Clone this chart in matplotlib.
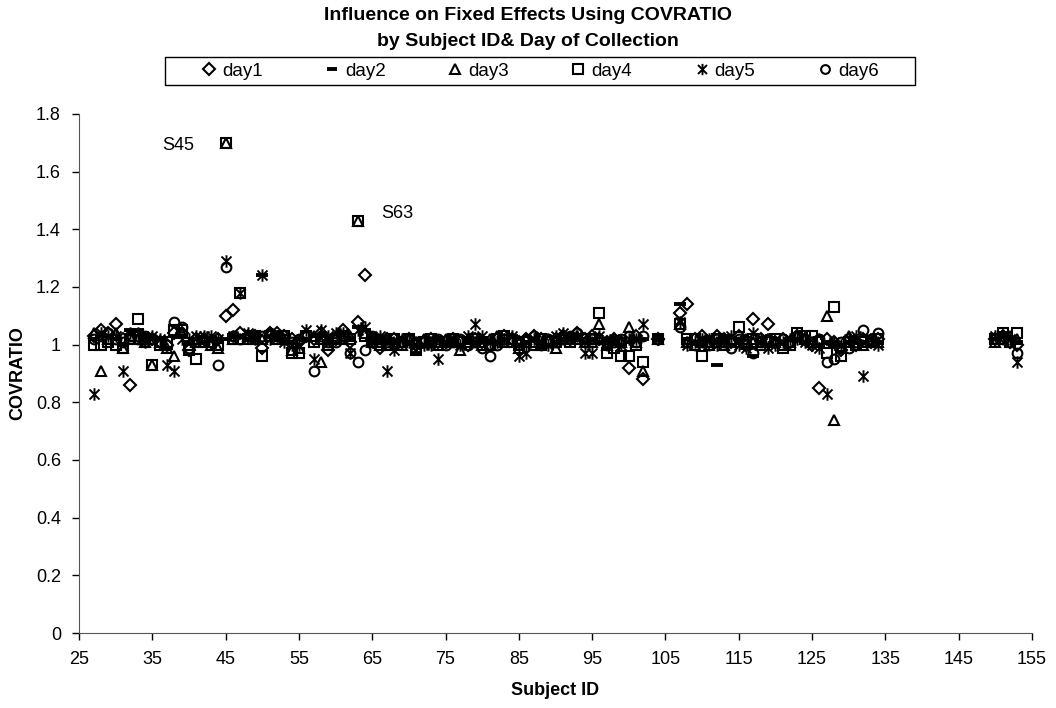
import numpy as np
import matplotlib
matplotlib.use("Agg")
import matplotlib.pyplot as plt
from matplotlib.patches import Rectangle
from matplotlib.path import Path

plt.rcParams["font.family"] = ["Liberation Sans", "DejaVu Sans"]

subjects = [27, 28, 29, 30, 31, 32, 33, 34, 35, 36, 37, 38, 39, 40, 41, 42, 43, 44,
            45, 46, 47, 48, 49, 50, 51, 52, 53, 54, 55, 56, 57, 58, 59, 60, 61, 62,
            63, 64, 65, 66, 67, 68, 69, 70, 71, 72, 73, 74, 75, 76, 77, 78, 79, 80,
            81, 82, 83, 84, 85, 86, 87, 88, 89, 90, 91, 92, 93, 94, 95, 96, 97, 98,
            99, 100, 101, 102, 104, 107, 108, 109, 110, 111, 112, 113, 114, 115, 116,
            117, 118, 119, 120, 121, 122, 123, 124, 125, 126, 127, 128, 129, 130, 131,
            132, 133, 134, 150, 151, 152, 153]

day1 = [1.03, 1.05, 1.04, 1.07, 1.02, 0.86, 1.03, 1.02, 1.02, 1.01, 1.00, 1.04, 1.04, 0.98, 1.02, 1.02, 1.01, 1.02,
        1.10, 1.12, 1.04, 1.03, 1.03, 0.99, 1.04, 1.04, 1.03, 1.02, 1.01, 1.03, 1.02, 1.04, 0.98, 1.02, 1.05, 1.01,
        1.08, 1.24, 1.02, 0.99, 1.02, 1.02, 1.01, 1.02, 1.00, 1.01, 1.02, 1.01, 1.01, 1.02, 1.01, 1.00, 1.02, 1.01,
        1.00, 1.02, 1.03, 1.02, 1.01, 1.02, 1.03, 1.02, 1.01, 1.02, 1.03, 1.02, 1.04, 1.02, 1.03, 1.02, 1.01, 1.02,
        1.01, 0.92, 1.03, 0.88, 1.02, 1.11, 1.14, 1.02, 1.03, 1.01, 1.03, 1.02, 1.01, 1.03, 1.00,
        1.09, 1.02, 1.07, 1.01, 1.02, 1.01, 1.03, 1.02, 1.00, 0.85, 1.02, 1.01, 0.98, 1.02, 1.00,
        1.02, 1.01, 1.02, 1.02, 1.03, 1.01, 1.00]

day2 = [1.02, 1.03, 1.03, 1.02, 1.00, 1.05, 1.05, 1.03, 1.02, 1.02, 0.99, 1.03, 1.03, 1.01, 1.02, 1.01, 1.02, 1.01,
        1.02, 1.03, 1.03, 1.02, 1.04, 1.24, 1.03, 1.02, 1.02, 1.01, 1.02, 1.02, 1.03, 1.03, 1.01, 1.01, 1.04, 1.02,
        1.06, 1.05, 1.03, 1.02, 1.01, 1.01, 1.02, 1.01, 0.97, 1.00, 1.01, 1.02, 1.00, 1.01, 1.00, 1.01, 1.01, 1.02,
        1.01, 1.01, 1.02, 1.03, 1.00, 1.01, 1.02, 0.99, 1.00, 1.01, 1.02, 1.03, 1.02, 1.01, 1.02, 1.01, 1.02, 1.01,
        1.00, 1.01, 1.02, 1.02, 1.02, 1.14, 1.02, 1.01, 1.00, 1.02, 0.93, 1.03, 1.00, 1.02, 0.99,
        0.96, 1.01, 1.00, 1.02, 1.01, 1.02, 1.02, 1.01, 1.02, 1.00, 1.01, 1.00, 1.00, 1.01, 1.01,
        1.01, 1.00, 1.01, 1.02, 1.04, 1.02, 1.01]

day3 = [1.04, 0.91, 1.02, 1.04, 0.99, 1.03, 1.02, 1.01, 0.93, 1.01, 0.99, 0.96, 1.04, 1.00, 1.01, 1.02, 1.00, 0.99,
        1.70, 1.02, 1.02, 1.03, 1.02, 1.02, 1.04, 1.03, 1.02, 0.98, 0.99, 1.04, 1.03, 0.94, 1.02, 1.03, 1.02, 1.03,
        1.43, 1.04, 1.01, 1.00, 1.02, 1.01, 1.00, 1.02, 1.01, 1.02, 1.01, 1.00, 1.02, 1.01, 0.98, 1.02, 1.01, 1.00,
        1.02, 1.03, 1.01, 1.02, 0.99, 1.02, 1.01, 1.00, 1.02, 0.99, 1.03, 1.02, 1.03, 1.01, 1.01, 1.07, 1.00, 1.02,
        1.01, 1.06, 1.01, 0.91, 1.02, 1.07, 1.01, 1.00, 1.01, 1.00, 1.01, 1.00, 1.02, 1.01, 1.02,
        1.01, 1.00, 1.02, 1.01, 1.00, 1.01, 1.03, 1.02, 1.01, 1.02, 1.10, 0.74, 0.99, 1.03, 1.02,
        1.00, 1.02, 1.01, 1.01, 1.02, 1.03, 1.02]

day4 = [1.00, 1.00, 1.01, 1.00, 0.99, 1.02, 1.09, 1.02, 0.93, 1.00, 1.01, 1.05, 1.05, 0.98, 0.95, 1.01, 1.01, 1.00,
        1.70, 1.02, 1.18, 1.02, 1.03, 0.96, 1.03, 1.02, 1.03, 0.97, 0.97, 1.03, 1.01, 1.02, 1.00, 1.02, 1.03, 1.02,
        1.43, 1.03, 1.02, 1.01, 1.00, 1.02, 1.01, 1.02, 0.98, 1.01, 1.02, 1.01, 1.01, 1.02, 1.01, 1.01, 1.02, 1.01,
        1.00, 1.02, 1.03, 1.01, 1.00, 1.01, 1.00, 1.02, 1.01, 1.01, 1.02, 1.01, 1.02, 1.02, 1.02, 1.11, 0.97, 0.99,
        0.96, 0.96, 1.00, 0.94, 1.02, 1.07, 1.02, 1.02, 0.96, 1.01, 1.02, 1.01, 1.01, 1.06, 1.01,
        1.02, 1.01, 1.01, 1.02, 0.99, 1.00, 1.04, 1.03, 1.03, 1.01, 0.97, 1.13, 0.96, 1.01, 1.00,
        1.01, 1.01, 1.02, 1.02, 1.04, 1.01, 1.04]

day5 = [0.83, 1.04, 1.03, 1.03, 0.91, 1.04, 1.04, 1.01, 1.03, 1.02, 0.93, 0.91, 1.02, 1.02, 1.03, 1.03, 1.03, 1.02,
        1.29, 1.03, 1.18, 1.04, 1.02, 1.24, 1.02, 1.03, 1.01, 1.00, 1.00, 1.05, 0.95, 1.05, 1.03, 1.04, 1.04, 0.97,
        1.05, 1.06, 1.01, 1.03, 0.91, 0.98, 1.02, 1.01, 1.00, 1.00, 1.00, 0.95, 1.01, 1.02, 1.00, 1.03, 1.07, 1.03,
        1.01, 1.01, 1.02, 1.03, 0.96, 0.97, 1.02, 1.01, 1.00, 1.03, 1.04, 1.02, 1.03, 0.97, 0.97, 1.03, 1.01, 1.02,
        1.00, 1.02, 1.02, 1.07, 1.02, 1.08, 1.00, 1.01, 1.02, 1.02, 1.00, 1.02, 1.03, 1.00, 0.99,
        1.04, 1.02, 0.99, 1.00, 1.01, 1.02, 1.02, 1.01, 1.00, 0.99, 0.83, 1.01, 1.00, 1.02, 1.03,
        0.89, 1.02, 1.00, 1.03, 1.03, 1.02, 0.94]

day6 = [1.02, 1.03, 1.04, 1.02, 1.01, 1.03, 1.02, 1.03, 1.02, 1.01, 1.00, 1.08, 1.06, 0.99, 1.02, 1.02, 1.01, 0.93,
        1.27, 1.03, 1.02, 1.03, 1.03, 1.03, 1.04, 1.03, 1.02, 1.01, 1.02, 1.03, 0.91, 1.03, 1.01, 1.01, 1.03, 0.97,
        0.94, 0.98, 1.03, 1.02, 1.01, 1.00, 1.01, 1.02, 1.01, 1.01, 1.01, 1.02, 1.00, 1.01, 1.02, 1.00, 1.01, 0.99,
        0.96, 1.00, 1.02, 1.02, 1.01, 1.02, 1.03, 1.00, 1.02, 1.01, 1.02, 1.03, 1.04, 1.01, 1.02, 1.02, 1.00, 1.01,
        1.02, 1.03, 1.01, 1.03, 1.02, 1.06, 1.01, 1.00, 1.01, 1.00, 1.02, 1.01, 0.99, 1.02, 1.00,
        0.97, 1.01, 1.02, 1.01, 1.02, 1.01, 1.03, 1.02, 1.01, 1.02, 0.94, 0.95, 1.01, 0.99, 1.01,
        1.05, 1.02, 1.04, 1.02, 1.02, 1.01, 0.97]

# Excel-style asterisk: vertical stroke plus an X
star = Path([(0, -1), (0, 1), (-0.8, -0.8), (0.8, 0.8), (-0.8, 0.8), (0.8, -0.8)],
            [Path.MOVETO, Path.LINETO, Path.MOVETO, Path.LINETO, Path.MOVETO, Path.LINETO])

days = ["day1", "day2", "day3", "day4", "day5", "day6"]
values = [day1, day2, day3, day4, day5, day6]
markers = ["D", "_", "^", "s", star, "o"]
sizes = [6.5, 8, 7.5, 7.5, 9, 7]
widths = [1.5, 2.8, 1.5, 1.5, 1.4, 1.5]

fig = plt.figure(figsize=(10.56, 7.08), dpi=100)
ax = fig.add_axes([79 / 1056, 75 / 708, 953 / 1056, 519 / 708])

for name, vals, m, s, w in zip(days, values, markers, sizes, widths):
    ax.plot(subjects, vals, linestyle="none", marker=m, markersize=s,
            markerfacecolor="none", markeredgecolor="black", markeredgewidth=w,
            color="black", label=name, clip_on=False)

ax.text(36.3, 1.69, "S45", fontsize=13, va="center", ha="left")
ax.text(66.2, 1.455, "S63", fontsize=13, va="center", ha="left")

ax.set_xlim(25, 155)
ax.set_ylim(0, 1.8)
ax.set_xticks(range(25, 156, 10))
ax.set_yticks(np.arange(0, 1.81, 0.2))
ax.set_yticklabels(["0", "0.2", "0.4", "0.6", "0.8", "1", "1.2", "1.4", "1.6", "1.8"])
ax.tick_params(labelsize=13, direction="out", length=5, width=1, pad=8)
for side in ["top", "right"]:
    ax.spines[side].set_visible(False)
ax.spines["left"].set_color("#555555")
ax.spines["bottom"].set_color("#555555")
ax.set_xlabel("Subject ID", fontsize=13, fontweight="bold", labelpad=10)
ax.set_ylabel("COVRATIO", fontsize=13, fontweight="bold", labelpad=7)

fig.text(0.5, 1 - 16 / 708, "Influence on Fixed Effects Using COVRATIO",
         ha="center", va="center", fontsize=14, fontweight="bold")
fig.text(0.5, 1 - 41 / 708, "by Subject ID& Day of Collection",
         ha="center", va="center", fontsize=14, fontweight="bold")

fig.patches.append(Rectangle((165 / 1056, 1 - 85 / 708), 750 / 1056, 28 / 708,
                             transform=fig.transFigure, fill=False,
                             edgecolor="black", linewidth=1))
fig.legend(loc="center", bbox_to_anchor=(540 / 1056, 1 - 71 / 708), ncol=6,
           frameon=False, fontsize=13.5, handlelength=0.8, handletextpad=0.3,
           columnspacing=3.3, markerscale=0.9)

fig.savefig("out.png", dpi=100)
